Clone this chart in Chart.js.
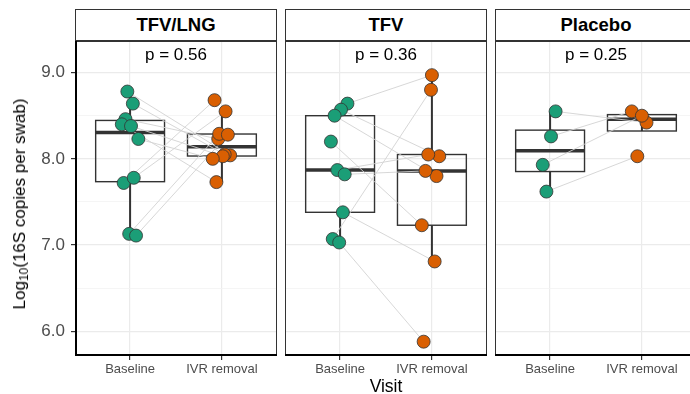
<!DOCTYPE html>
<html>
<head>
<meta charset="utf-8">
<script src="https://cdn.jsdelivr.net/npm/chart.js@4.4.0/dist/chart.umd.min.js"></script>
<style>
  body { margin:0; width:690px; height:394px; overflow:hidden; background:#fff; position:relative;
         font-family:"Liberation Sans", Arial, sans-serif; }
  canvas { position:absolute; top:41px; }
  .strip { position:absolute; top:9px; height:32px; width:202px; box-sizing:border-box;
           border:1px solid #333; background:#fff; text-align:center; line-height:30px;
           font-weight:bold; font-size:18.5px; color:#000; }
  #ytitle { position:absolute; left:20px; top:204px; transform:translate(-50%,-50%) rotate(-90deg);
            white-space:nowrap; font-size:17px; color:#000; }
  #ytitle sub { font-size:12px; vertical-align:-3px; line-height:0; }
  #xtitle { position:absolute; left:386px; top:386px; transform:translate(-50%,-50%);
            font-size:17.5px; color:#000; }
</style>
</head>
<body>

<div class="strip" style="left:75px">TFV/LNG</div>
<div class="strip" style="left:285px">TFV</div>
<div class="strip" style="left:495px">Placebo</div>

<canvas id="c1" width="277" height="354" style="left:0px"></canvas>
<canvas id="c2" width="202" height="354" style="left:285px"></canvas>
<canvas id="c3" width="202" height="354" style="left:495px"></canvas>

<div id="ytitle">Log<sub>10</sub>(16S copies per swab)</div>
<div id="xtitle">Visit</div>

<script>
// ---- data ----
var visits  = ['Baseline', 'IVR removal'];
var pLabels = ['p = 0.56', 'p = 0.36', 'p = 0.25'];
var yTicks  = [6, 6.5, 7, 7.5, 8, 8.5, 9];

// log10 16S copies per swab, same index = same participant
var tfvlngBaseline = [8.78, 8.64, 8.46, 8.40, 8.38, 8.23, 7.72, 7.78, 7.13, 7.11];
var tfvlngRemoval  = [8.04, 8.05, 8.23, 7.73, 8.03, 8.00, 8.68, 8.55, 8.29, 8.28];
var tfvBaseline    = [8.64, 8.57, 8.50, 8.20, 7.87, 7.82, 7.38, 7.07, 7.03];
var tfvRemoval     = [8.97, 8.03, 7.80, 7.23, 8.05, 7.86, 6.81, 8.80, 5.88];
var placeboBaseline = [8.55, 8.26, 7.93, 7.62];
var placeboRemoval  = [8.42, 8.55, 8.50, 8.03];

// horizontal jitter (in visit units)
var tfvlngJitB = [-0.03, 0.03, -0.05, -0.09, 0.01, 0.09, -0.07, 0.04, -0.01, 0.065];
var tfvlngJitR = [0.09, 0.03, -0.04, -0.06, 0.01, -0.10, -0.08, 0.04, -0.03, 0.065];
var tfvJitB    = [0.08, 0.01, -0.06, -0.10, -0.03, 0.05, 0.03, -0.08, -0.01];
var tfvJitR    = [0.0, 0.08, 0.05, -0.11, -0.04, -0.07, 0.03, -0.01, -0.09];
var placeboJitB = [0.06, 0.01, -0.08, -0.04];
var placeboJitR = [0.05, -0.11, 0.0, -0.05];

var GREEN = '#1B9E77', ORANGE = '#D95F02';

function quantile(sorted, p) {
	var h = (sorted.length - 1) * p, lo = Math.floor(h);
	if (lo + 1 >= sorted.length) return sorted[lo];
	return sorted[lo] + (h - lo) * (sorted[lo + 1] - sorted[lo]);
}

function boxStats(vals) {
	var s = vals.slice().sort(function(a, b) { return a - b; });
	var q1 = quantile(s, 0.25), q3 = quantile(s, 0.75), med = quantile(s, 0.5);
	var iqr = q3 - q1;
	var inside = s.filter(function(v) { return v >= q1 - 1.5 * iqr && v <= q3 + 1.5 * iqr; });
	return { q1: q1, q3: q3, med: med, lo: inside[0], hi: inside[inside.length - 1] };
}

function noPadding(ax) {
	ax.paddingLeft = 0; ax.paddingRight = 0; ax.paddingTop = 0; ax.paddingBottom = 0;
}

var facetPlugin = {
	id: 'facet',
	beforeDatasetsDraw: function(chart) {
		var o = chart.options.plugins.facet;
		var x = chart.scales.x, y = chart.scales.y, ctx = chart.ctx;
		ctx.save();
		o.groups.forEach(function(vals, i) {
			var st = boxStats(vals);
			var cx = x.getPixelForValue(i + 1);
			var l = x.getPixelForValue(i + 1 - 0.375), r = x.getPixelForValue(i + 1 + 0.375);
			ctx.strokeStyle = '#333';
			ctx.lineWidth = 2;
			ctx.beginPath();
			ctx.moveTo(cx, y.getPixelForValue(st.q3)); ctx.lineTo(cx, y.getPixelForValue(st.hi));
			ctx.moveTo(cx, y.getPixelForValue(st.q1)); ctx.lineTo(cx, y.getPixelForValue(st.lo));
			ctx.stroke();
			ctx.lineWidth = 1.4;
			var t = y.getPixelForValue(st.q3), b = y.getPixelForValue(st.q1);
			ctx.strokeRect(l, t, r - l, b - t);
			ctx.lineWidth = 3.5;
			ctx.beginPath();
			var m = y.getPixelForValue(st.med);
			ctx.moveTo(l, m); ctx.lineTo(r, m);
			ctx.stroke();
		});
		ctx.restore();
	},
	afterDraw: function(chart) {
		var o = chart.options.plugins.facet;
		var a = chart.chartArea, ctx = chart.ctx;
		var x = chart.scales.x, y = chart.scales.y;
		ctx.save();
		ctx.fillStyle = '#000';
		ctx.font = '17px "Liberation Sans", Arial, sans-serif';
		ctx.textAlign = 'center';
		ctx.textBaseline = 'middle';
		ctx.fillText(o.label, x.getPixelForValue(1.5), y.getPixelForValue(9.2));
		ctx.strokeStyle = '#333';
		ctx.lineWidth = 1;
		ctx.strokeRect(a.left + 0.5, a.top + 0.5, a.right - a.left - 1, a.bottom - a.top - 1);
		ctx.strokeStyle = '#000';
		ctx.lineWidth = 2;
		ctx.beginPath();
		ctx.moveTo(a.left, a.bottom - 1); ctx.lineTo(a.right, a.bottom - 1);
		if (o.axis) { ctx.moveTo(a.left + 1, a.top); ctx.lineTo(a.left + 1, a.bottom); }
		ctx.stroke();
		ctx.restore();
	}
};

function makeChart(id, k, baseline, removal, jitB, jitR, showY) {
	var datasets = [];
	baseline.forEach(function(v, i) {
		datasets.push({
			type: 'line',
			data: [{ x: 1 + jitB[i], y: v }, { x: 2 + jitR[i], y: removal[i] }],
			borderColor: '#D3D3D3', borderWidth: 0.9, pointRadius: 0, order: 2
		});
	});
	datasets.push({
		data: baseline.map(function(v, i) { return { x: 1 + jitB[i], y: v }; }),
		backgroundColor: GREEN, borderColor: '#333', borderWidth: 0.8, pointRadius: 6.5, order: 1
	});
	datasets.push({
		data: removal.map(function(v, i) { return { x: 2 + jitR[i], y: v }; }),
		backgroundColor: ORANGE, borderColor: '#333', borderWidth: 0.8, pointRadius: 6.5, order: 0
	});

	return new Chart(document.getElementById(id), {
		type: 'scatter',
		data: { datasets: datasets },
		plugins: [facetPlugin],
		options: {
			responsive: false,
			animation: false,
			devicePixelRatio: 1,
			layout: { padding: 0, autoPadding: false },
			plugins: {
				legend: { display: false },
				tooltip: { enabled: false },
				facet: { groups: [baseline, removal], label: pLabels[k], axis: showY }
			},
			scales: {
				x: {
					type: 'linear', min: 0.4, max: 2.6,
					afterBuildTicks: function(ax) { ax.ticks = [{ value: 1 }, { value: 2 }]; },
					afterFit: function(ax) { ax.height = 39; noPadding(ax); },
					border: { display: false },
					grid: { color: '#EBEBEB', lineWidth: 1.2, tickLength: 4, tickColor: '#333' },
					ticks: {
						autoSkip: false, maxRotation: 0, padding: 2, color: '#4D4D4D',
						font: { family: '"Liberation Sans", Arial, sans-serif', size: 13 },
						callback: function(v) { return visits[v - 1]; }
					}
				},
				y: {
					type: 'linear', min: 5.714, max: 9.366,
					afterBuildTicks: function(ax) { ax.ticks = yTicks.map(function(v) { return { value: v }; }); },
					afterFit: function(ax) { ax.width = showY ? 75 : 0; noPadding(ax); },
					border: { display: false },
					grid: {
						drawTicks: showY, tickLength: 4,
						color: function(c) { return c.tick && c.tick.value % 1 === 0 ? '#EBEBEB' : '#F3F3F3'; },
						lineWidth: function(c) { return c.tick && c.tick.value % 1 === 0 ? 1.2 : 0.8; },
						tickColor: function(c) { return c.tick && c.tick.value % 1 === 0 ? '#333' : 'rgba(0,0,0,0)'; }
					},
					ticks: {
						display: showY, padding: 6, color: '#4D4D4D',
						font: { family: '"Liberation Sans", Arial, sans-serif', size: 17 },
						callback: function(v) { return v % 1 === 0 ? v.toFixed(1) : ''; }
					}
				}
			}
		}
	});
}

makeChart('c1', 0, tfvlngBaseline, tfvlngRemoval, tfvlngJitB, tfvlngJitR, true);
makeChart('c2', 1, tfvBaseline, tfvRemoval, tfvJitB, tfvJitR, false);
makeChart('c3', 2, placeboBaseline, placeboRemoval, placeboJitB, placeboJitR, false);
</script>
</body>
</html>
